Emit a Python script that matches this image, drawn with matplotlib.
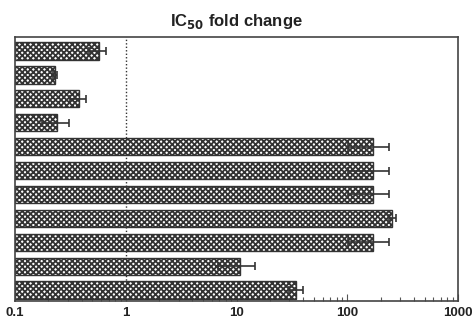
import matplotlib
matplotlib.use("Agg")
import matplotlib.pyplot as plt
import numpy as np

categories = ["A", "B", "C", "D", "E", "F", "G", "H", "I", "J", "K"]
fold_change = [0.57, 0.23, 0.375, 0.24, 171, 171, 171, 256, 171, 10.8, 34.7]
err_upper = [0.67, 0.24, 0.436, 0.306, 240, 240, 240, 275, 240, 14.8, 39.6]
xticks = [0.1, 1, 10, 100, 1000]
xticklabels = ["0.1", "1", "10", "100", "1000"]

plt.rcParams['hatch.linewidth'] = 1.3
plt.rcParams['hatch.color'] = '#3a3a3a'

fig = plt.figure(figsize=(4.73, 3.21), dpi=100)
ax = fig.add_axes([15/473, 1-301/321, 443/473, 264/321])

vals = np.array(fold_change)
up = np.array(err_upper) - vals
lo = np.minimum(up, vals - 0.1001)
y = np.arange(len(categories))
ax.barh(y, vals - 0.1, height=0.72, left=0.1, color='white', edgecolor='#333333',
        hatch='xxxxxx', linewidth=1.0, zorder=2)
ax.errorbar(vals, y, xerr=[lo, up], fmt='none', ecolor='#333333',
            elinewidth=1.2, capsize=3, capthick=1.2, zorder=3)
ax.axvline(1, color='#333333', linestyle=(0, (1, 1.5)), linewidth=1, zorder=1)

ax.set_xscale('log')
ax.set_xlim(0.1, 1000)
ax.set_ylim(10.46, -0.59)
ax.set_yticks([])
ax.set_xticks(xticks)
ax.set_xticklabels(xticklabels, fontweight='bold', fontsize=9.5, family='Liberation Sans')
ax.tick_params(axis='x', which='both', direction='in', length=3, width=0.8, colors='#555555', labelcolor='#222222')
ax.tick_params(axis='x', which='major', length=5, pad=4)
for s in ax.spines.values():
    s.set_color('#444444')
    s.set_linewidth(1.2)

ax.set_title("IC$_{\\mathbf{50}}$ fold change", fontweight='bold', fontsize=12,
             family='Liberation Sans', pad=8, color='#222222')

fig.savefig("out.png", dpi=100)
